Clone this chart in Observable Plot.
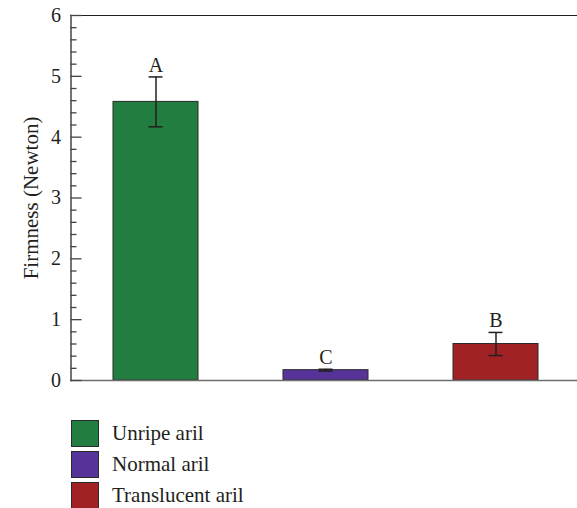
<!DOCTYPE html>
<html>
<head>
<meta charset="utf-8">
<script src="https://cdn.jsdelivr.net/npm/d3@7"></script>
<script src="https://cdn.jsdelivr.net/npm/@observablehq/plot@0.6"></script>
<style>
  body { margin: 0; background: #fff; font-family: "Liberation Serif", "DejaVu Serif", serif; }
  #chart { position: relative; width: 577px; height: 508px; }
  .legend { position: absolute; left: 71px; top: 420px; }
  .row { display: flex; align-items: center; height: 26px; margin-bottom: 5px; }
  .sw { width: 26px; height: 25px; border: 1px solid #2b2b2b; box-sizing: content-box; }
  .lab { margin-left: 13px; font-size: 21px; color: #231f20; }
</style>
</head>
<body>
<div id="chart"></div>
<script>
const categories = ["Unripe aril", "Normal aril", "Translucent aril"];
const means = [4.58, 0.17, 0.60];
const errors = [0.41, 0.015, 0.19];
const letters = ["A", "C", "B"];
const colors = ["#217d40", "#553398", "#a12225"];
const yTicks = [0, 1, 2, 3, 4, 5, 6];
const yMinorTicks = d3.range(0, 30).map(i => i / 5).filter(v => !Number.isInteger(v));

const data = categories.map((c, i) => ({cat: c, mean: means[i], err: errors[i], letter: letters[i], color: colors[i]}));

const ink = "#231f20";
const plot = Plot.plot({
  width: 577,
  height: 400,
  marginLeft: 70.5,
  marginRight: -3.5,
  marginTop: 15,
  marginBottom: 20,
  style: {fontFamily: "Liberation Serif, DejaVu Serif, serif", fontSize: "19px", color: ink},
  x: {domain: categories, paddingInner: 0.5, paddingOuter: 0.25, axis: null},
  y: {domain: [0, 6]},
  marks: [
    Plot.barY(data, {x: "cat", y: "mean", fill: d => d.color, stroke: "#2b2b2b", strokeWidth: 1}),
    Plot.ruleX(data, {x: "cat", y1: d => d.mean - d.err, y2: d => d.mean + d.err, stroke: ink, strokeWidth: 1.5}),
    Plot.tickY(data, {x: "cat", y: d => d.mean + d.err, stroke: ink, strokeWidth: 1.5, insetLeft: 35.5, insetRight: 35.5}),
    Plot.tickY(data, {x: "cat", y: d => d.mean - d.err, stroke: ink, strokeWidth: 1.5, insetLeft: 35.5, insetRight: 35.5}),
    Plot.text(data, {x: "cat", y: d => d.mean + d.err, text: "letter", lineAnchor: "bottom", dy: -5, fontSize: 20, fill: ink}),
    Plot.ruleY([0], {stroke: "#6d6d6d", strokeWidth: 1.5}),
    Plot.frame({anchor: "top", stroke: ink, strokeWidth: 1.2}),
    Plot.frame({anchor: "left", stroke: "#444", strokeWidth: 1.5}),
    Plot.axisY({ticks: yTicks, tickFormat: d => String(d), tickSize: 0, tickPadding: 10, label: null, fontSize: 20, fill: ink}),
    Plot.axisY({ticks: yTicks, tickSize: -11, text: null, label: null, stroke: "#444", strokeWidth: 1.3}),
    Plot.axisY({ticks: yMinorTicks, tickSize: -6, text: null, label: null, stroke: "#444", strokeWidth: 1.3}),
    Plot.text(["Firmness (Newton)"], {frameAnchor: "left", textAnchor: "middle", rotate: -90, dx: -40, fontSize: 21, fill: ink})
  ]
});
const root = document.getElementById("chart");
root.appendChild(plot);

const legend = document.createElement("div");
legend.className = "legend";
categories.forEach((c, i) => {
  const row = document.createElement("div");
  row.className = "row";
  const sw = document.createElement("div");
  sw.className = "sw";
  sw.style.background = colors[i];
  const lab = document.createElement("span");
  lab.className = "lab";
  lab.textContent = c;
  row.appendChild(sw);
  row.appendChild(lab);
  legend.appendChild(row);
});
root.appendChild(legend);
</script>
</body>
</html>
